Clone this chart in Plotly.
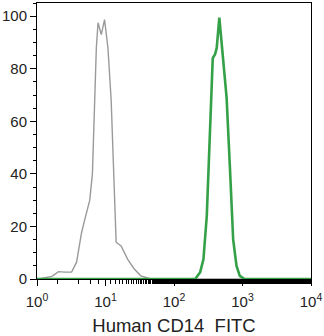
import plotly.graph_objects as go

# Isotype control (gray)
ctrl_x = [1.0, 1.06, 1.65, 2.06, 2.56, 3.2, 3.78, 4.47, 4.98, 5.89, 6.44, 7.35, 7.78, 8.68, 9.69,
          10.85, 12.1, 13.5, 14.3, 16.9, 21.1, 26.3, 32.8, 45.7, 10000]
ctrl_y = [0, 0, 1.0, 2.8, 2.6, 2.6, 6.4, 17.6, 22.6, 30, 40, 88, 97.5, 93, 98.7,
          88, 68, 36.5, 14, 12.6, 7.5, 3.8, 1.2, 0, 0]

# Human CD14 FITC (green)
cd14_x = [1.0, 204, 241, 269, 301, 336, 368, 398, 421, 459, 524, 586, 654, 731, 818, 913, 1073, 10000]
cd14_y = [0, 0, 2.6, 7.5, 24, 55, 84, 85.5, 88, 99.4, 83, 69, 42.8, 15, 5, 1.2, 0, 0]

x_tickvals = [1, 10, 100, 1000, 10000]
x_ticktext = ["10<sup>0</sup>", "10<sup>1</sup>", "10<sup>2</sup>", "10<sup>3</sup>", "10<sup>4</sup>"]
y_tickvals = [0, 20, 40, 60, 80, 100]

fig = go.Figure()
fig.add_trace(go.Scatter(x=ctrl_x, y=ctrl_y, mode="lines",
                         line=dict(color="#9a9a9a", width=1.4), showlegend=False))
fig.add_trace(go.Scatter(x=cd14_x, y=cd14_y, mode="lines",
                         line=dict(color="#34a047", width=2.6), showlegend=False))

fig.update_layout(
    width=324, height=336,
    margin=dict(l=35, r=12, t=2, b=56),
    paper_bgcolor="white", plot_bgcolor="white",
    font=dict(family="Liberation Sans, Arial, sans-serif", size=15, color="#222"),
    xaxis=dict(type="log", range=[0, 4], tickvals=x_tickvals, ticktext=x_ticktext,
               ticks="outside", ticklen=6, tickcolor="black", showgrid=False, zeroline=False,
               showline=True, linecolor="black", linewidth=1, mirror=True,
               tickfont=dict(size=15), ticklabelstandoff=3,
               minor=dict(ticks="outside", ticklen=4, tickcolor="black", showgrid=False),
               title=dict(text="Human CD14  FITC", font=dict(size=18.5), standoff=11)),
    yaxis=dict(range=[0, 105], tickvals=y_tickvals,
               ticks="outside", ticklen=6, tickcolor="black", showgrid=False, zeroline=False,
               showline=True, linecolor="black", linewidth=1, mirror=True,
               tickfont=dict(size=15),
               minor=dict(ticks="outside", ticklen=3, tickcolor="black", dtick=5, showgrid=False)),
)

fig.write_html("out.html")
